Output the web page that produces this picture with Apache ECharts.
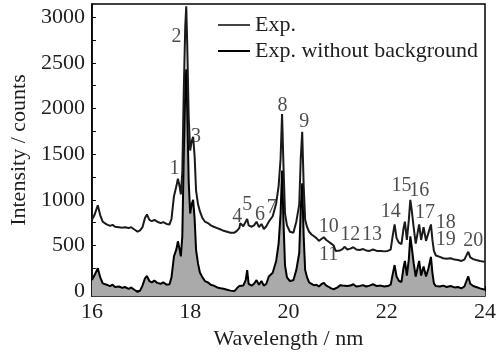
<!DOCTYPE html>
<html>
<head>
<meta charset="utf-8">
<script src="https://cdn.jsdelivr.net/npm/echarts@6/dist/echarts.min.js"></script>
<style>
  html, body { margin: 0; padding: 0; background: #fff; }
  #chart { width: 499px; height: 355px; }
</style>
</head>
<body>
<div id="chart"></div>
<script>
// wavelength (nm)
const wavelength = [
  16.00, 16.05, 16.12, 16.17, 16.22, 16.30, 16.37, 16.42, 16.47, 16.55,
  16.62, 16.67, 16.75, 16.80, 16.85, 16.93, 16.98, 17.03, 17.08, 17.12,
  17.17, 17.22, 17.27, 17.33, 17.40, 17.45, 17.52, 17.58, 17.62, 17.67,
  17.72, 17.75, 17.78, 17.81, 17.84, 17.87, 17.90, 17.92, 17.94, 17.97,
  18.00, 18.03, 18.06, 18.09, 18.12, 18.16, 18.20, 18.25, 18.30, 18.36,
  18.42, 18.48, 18.55, 18.62, 18.68, 18.75, 18.82, 18.90, 18.95, 19.00,
  19.02, 19.08, 19.13, 19.16, 19.19, 19.25, 19.30, 19.35, 19.40, 19.45,
  19.50, 19.55, 19.60, 19.68, 19.75, 19.80, 19.84, 19.87, 19.90, 19.93,
  19.97, 20.03, 20.10, 20.16, 20.22, 20.25, 20.28, 20.31, 20.34, 20.38,
  20.42, 20.47, 20.52, 20.57, 20.62, 20.67, 20.72, 20.77, 20.82, 20.87,
  20.92, 20.96, 21.00, 21.05, 21.10, 21.14, 21.20, 21.26, 21.32, 21.38,
  21.45, 21.52, 21.58, 21.65, 21.72, 21.80, 21.88, 21.95, 22.02, 22.08,
  22.12, 22.16, 22.20, 22.25, 22.30, 22.34, 22.37, 22.41, 22.45, 22.48,
  22.51, 22.55, 22.59, 22.63, 22.66, 22.70, 22.75, 22.80, 22.85, 22.90,
  22.93, 22.96, 23.00, 23.08, 23.15, 23.22, 23.30, 23.38, 23.45, 23.52,
  23.58, 23.63, 23.66, 23.70, 23.76, 23.82, 23.90, 24.00
];

// Exp.
const expCounts = [
  780, 830, 940, 830, 760, 730, 715, 725, 705, 700,
  695, 700, 690, 700, 680, 650, 665, 700, 800, 840,
  780, 765, 780, 760, 745, 755, 735, 730, 790, 1040,
  1150, 1230, 1160, 1060, 1300, 2200, 2900, 3120, 2700, 1900,
  1540, 1640, 1690, 1480, 1100, 950, 870, 800, 760, 745,
  720, 705, 690, 675, 660, 650, 640, 640, 660, 690,
  745, 710, 760, 790, 720, 705, 720, 760, 700, 735,
  680, 710, 760, 820, 960, 1150, 1450, 1940, 1350, 850,
  720, 650, 640, 760, 950, 1450, 1745, 1150, 780, 700,
  650, 620, 600, 580, 550, 570, 590, 560, 540, 520,
  500, 440, 440, 445, 460, 485, 455, 465, 480, 455,
  450, 460, 445, 440, 455, 440, 440, 435, 440, 455,
  600, 730, 580, 530, 515, 680, 760, 560, 780, 1000,
  880, 690, 520, 640, 730, 560, 700, 550, 640, 730,
  560, 440, 390, 375, 360, 355, 360, 345, 340, 330,
  345, 400, 430, 370, 350, 340, 330, 320
];

// Exp. without background
const netCounts = [
  120, 170, 250, 150, 85, 70, 55, 70, 45, 50,
  35, 45, 25, 40, 20, -10, 5, 60, 140, 165,
  110, 95, 115, 90, 80, 95, 70, 75, 150, 380,
  460, 545, 470, 380, 600, 1500, 2200, 2430, 2000, 1200,
  850, 950, 1000, 800, 450, 300, 200, 150, 110, 95,
  70, 60, 40, 30, 25, 15, 5, 0, 30, 55,
  45, 60, 120, 230, 80, 60, 80, 120, 70, 110,
  60, 80, 160, 200, 330, 520, 850, 1320, 750, 280,
  150, 110, 118, 230, 420, 900, 1180, 600, 230, 150,
  95, 80, 64, 70, 50, 75, 90, 60, 45, 30,
  20, 10, 40, 65, 60, 80, 55, 60, 75, 50,
  55, 65, 50, 60, 75, 55, 60, 50, 55, 70,
  180, 285, 160, 110, 100, 250, 330, 170, 350, 600,
  480, 300, 160, 260, 330, 170, 270, 160, 250, 375,
  200, 85, 55, 50, 60, 45, 55, 40, 45, 30,
  50, 120, 160, 80, 55, 45, 30, 15
];

// peak labels, anchored at [wavelength, counts]
const peakNames = ['1', '2', '3', '4', '5', '6', '7', '8', '9', '10',
  '11', '12', '13', '14', '15', '16', '17', '18', '19', '20'];
const peakAt = [
  [17.68, 1338], [17.72, 2782], [18.12, 1690], [18.96, 813], [19.16, 942],
  [19.42, 835], [19.66, 910], [19.88, 2033], [20.32, 1851], [20.82, 706],
  [20.82, 396], [21.26, 620], [21.70, 620], [22.08, 867], [22.30, 1155],
  [22.66, 1102], [22.78, 856], [23.20, 749], [23.20, 567], [23.76, 546]
];

const xTicks = [16, 18, 20, 22, 24];
const yTicks = [0, 500, 1000, 1500, 2000, 2500, 3000];
const yMinorTicks = [0, 250, 500, 750, 1000, 1250, 1500, 1750, 2000, 2250, 2500, 2750, 3000];

const font = 'Liberation Serif';
const ink = '#1e1e1e';

const chart = echarts.init(document.getElementById('chart'));
chart.setOption({
  animation: false,
  textStyle: { fontFamily: font },
  grid: {
    left: 89, right: 10, top: 4, bottom: 52,
    show: true, borderColor: '#000', borderWidth: 1.5,
  },
  legend: {
    data: ['Exp.', 'Exp. without background'],
    orient: 'vertical',
    left: 213,
    top: 9,
    itemWidth: 32,
    itemHeight: 2,
    itemGap: 4,
    icon: 'rect',
    textStyle: { fontFamily: font, fontSize: 22, color: ink },
  },
  xAxis: {
    type: 'value',
    min: 16, max: 24, interval: 2,
    name: 'Wavelength / nm',
    nameLocation: 'middle',
    nameGap: 27,
    nameTextStyle: { fontFamily: font, fontSize: 22, color: ink },
    axisLine: { lineStyle: { color: '#000', width: 1.5 } },
    axisTick: { inside: true, length: 5, lineStyle: { color: '#000' } },
    minorTick: { show: true, splitNumber: 2, length: 4, lineStyle: { color: '#000' } },
    axisLabel: {
      margin: 5, fontSize: 22, color: ink, fontFamily: font,
      customValues: xTicks,
      formatter: (v) => String(v),
    },
    splitLine: { show: false },
  },
  yAxis: {
    type: 'value',
    min: -55, max: 3145,
    name: 'Intensity / counts',
    nameLocation: 'middle',
    nameGap: 54,
    nameTextStyle: { fontFamily: font, fontSize: 22, color: ink },
    axisLine: { show: true, lineStyle: { color: '#000', width: 1.5 } },
    axisTick: {
      show: true, inside: true, length: 4, lineStyle: { color: '#000' },
      customValues: yMinorTicks,
    },
    axisLabel: {
      margin: 7, fontSize: 22, color: ink, fontFamily: font,
      customValues: yTicks,
      formatter: (v) => String(v),
    },
    splitLine: { show: false },
  },
  series: [
    {
      name: 'Exp.',
      type: 'line',
      data: wavelength.map((w, i) => [w, expCounts[i]]),
      symbol: 'none',
      color: '#444',
      lineStyle: { color: '#1a1a1a', width: 2 },
      z: 3,
    },
    {
      name: 'Exp. without background',
      type: 'line',
      data: wavelength.map((w, i) => [w, netCounts[i]]),
      symbol: 'none',
      color: '#000',
      lineStyle: { color: '#000', width: 2 },
      areaStyle: { color: '#aaaaaa', opacity: 1, origin: 'start' },
      z: 2,
    },
    {
      name: 'peaks',
      type: 'scatter',
      symbolSize: 0,
      silent: true,
      data: peakNames.map((n, i) => ({ name: n, value: peakAt[i] })),
      label: {
        show: true,
        position: 'inside',
        formatter: '{b}',
        fontFamily: font,
        fontSize: 20,
        color: ink,
      },
      z: 4,
    },
  ],
});
</script>
</body>
</html>
